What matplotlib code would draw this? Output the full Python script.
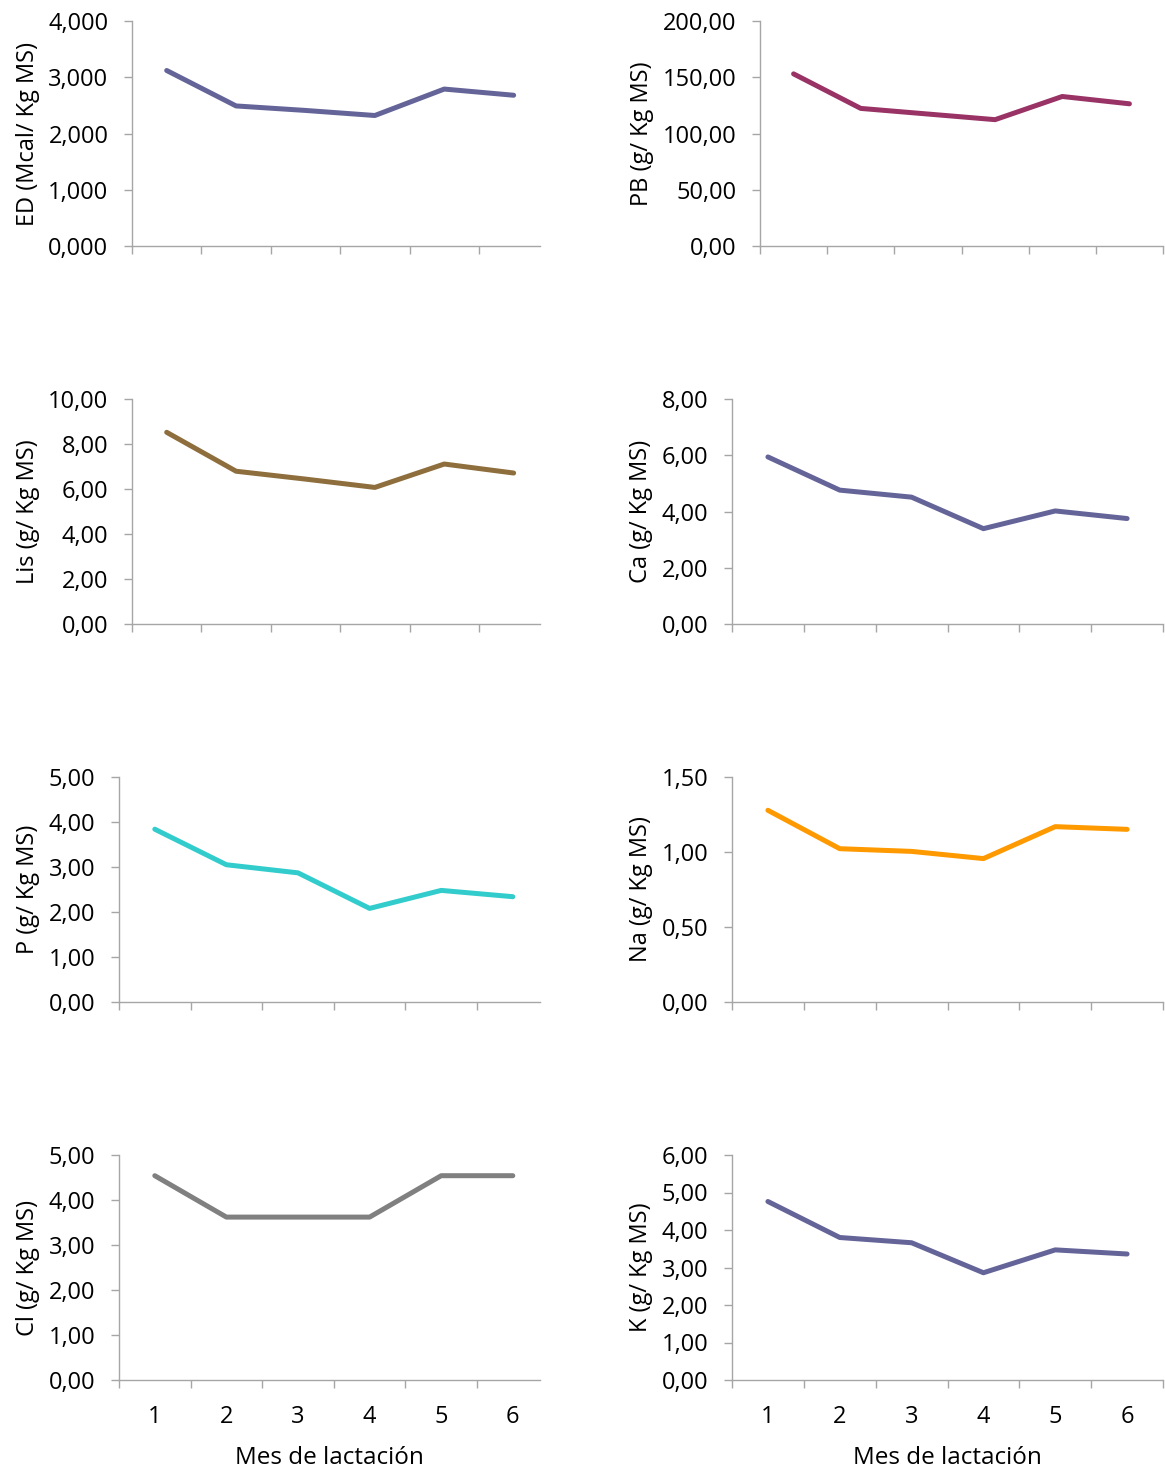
import numpy as np
from matplotlib import pyplot as plt
from matplotlib.ticker import FixedLocator, FuncFormatter, NullFormatter

plt.rcParams['font.family'] = ['Open Sans', 'DejaVu Sans']

meses = ['1', '2', '3', '4', '5', '6']

ed = [3.12, 2.49, 2.41, 2.32, 2.79, 2.68]
pb = [153.0, 122.3, 117.3, 112.3, 132.9, 126.4]
lis = [8.52, 6.79, 6.44, 6.07, 7.11, 6.71]
ca = [5.94, 4.76, 4.51, 3.39, 4.02, 3.75]
p = [3.84, 3.05, 2.87, 2.08, 2.48, 2.34]
na = [1.278, 1.022, 1.004, 0.956, 1.169, 1.151]
cl = [4.54, 3.62, 3.62, 3.62, 4.54, 4.54]
k = [4.76, 3.80, 3.66, 2.86, 3.47, 3.36]

W, H = 1165, 1470
GRAY = '#A6A6A6'

# (data, label, color, ymax, ystep, decimals, left px, width px, top px, xmax, show x labels)
panels = [
    (ed, 'ED (Mcal/ Kg MS)', '#646499', 4, 1, 3, 132, 408, 21, 5.88, False),
    (pb, 'PB (g/ Kg MS)', '#993366', 200, 50, 2, 760, 403, 21, 6, False),
    (lis, 'Lis (g/ Kg MS)', '#8E6E3C', 10, 2, 2, 132, 408, 399, 5.88, False),
    (ca, 'Ca (g/ Kg MS)', '#646499', 8, 2, 2, 732, 431, 399, 6, False),
    (p, 'P (g/ Kg MS)', '#33CCCC', 5, 1, 2, 119, 421, 777, 5.88, False),
    (na, 'Na (g/ Kg MS)', '#FF9900', 1.5, 0.5, 2, 732, 431, 777, 6, False),
    (cl, 'Cl (g/ Kg MS)', '#808080', 5, 1, 2, 119, 421, 1155, 5.88, True),
    (k, 'K (g/ Kg MS)', '#646499', 6, 1, 2, 732, 431, 1155, 6, True),
]


def comma_fmt(dec):
    return FuncFormatter(lambda v, pos: ('{:.%df}' % dec).format(v).replace('.', ','))


fig = plt.figure(figsize=(W / 100, H / 100), dpi=100)

for data, label, color, ymax, ystep, dec, left, width, top, xmax, xlab in panels:
    ax = fig.add_axes([left / W, 1 - (top + 225) / H, width / W, 225 / H])
    x = np.arange(len(meses)) + 0.5
    ax.plot(x, data, color=color, lw=3.6, solid_capstyle='round', solid_joinstyle='round', clip_on=False)

    ax.set_xlim(0, xmax)
    ax.set_ylim(0, ymax)
    ax.yaxis.set_major_locator(FixedLocator(np.arange(0, ymax + ystep / 2, ystep)))
    ax.yaxis.set_major_formatter(comma_fmt(dec))

    ax.xaxis.set_major_locator(FixedLocator(np.arange(0, 7)))
    ax.xaxis.set_major_formatter(NullFormatter())
    if xlab:
        ax.xaxis.set_minor_locator(FixedLocator(x))
        ax.xaxis.set_minor_formatter(FuncFormatter(lambda v, pos: meses[pos]))
        ax.tick_params(axis='x', which='minor', length=0, pad=18, labelsize=17)
        ax.set_xlabel('Mes de lactación', fontsize=17.5, labelpad=12)

    for s in ['top', 'right']:
        ax.spines[s].set_visible(False)
    for s in ['left', 'bottom']:
        ax.spines[s].set_color(GRAY)
        ax.spines[s].set_linewidth(1.0)

    ax.tick_params(axis='both', which='major', direction='out', length=6,
                   width=1.0, color=GRAY, labelsize=17)
    ax.tick_params(axis='y', pad=11)
    ax.set_ylabel(label, fontsize=17, labelpad=6)

fig.savefig('out.png', dpi=100)
